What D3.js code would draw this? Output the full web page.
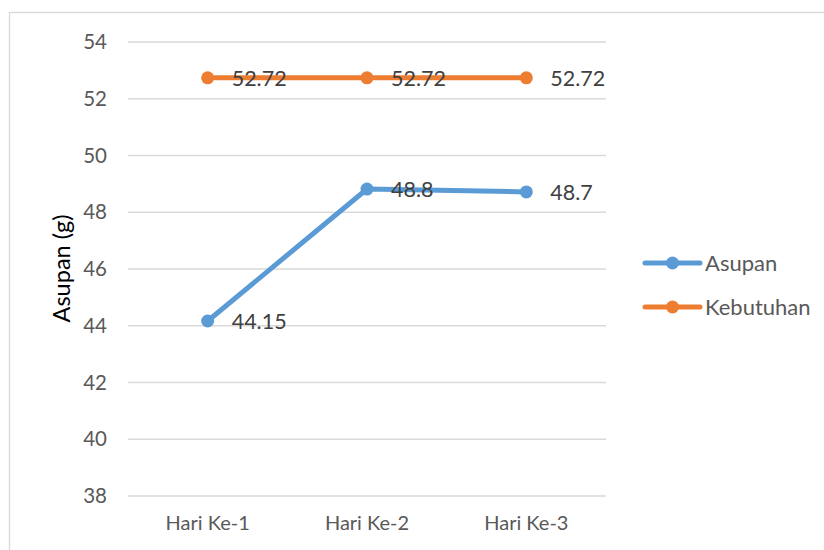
<!DOCTYPE html>
<html><head><meta charset="utf-8">
<script src="https://cdn.jsdelivr.net/npm/d3@7"></script>
<style>body{margin:0;background:#fff}svg{display:block}text{font-family:Lato,"Open Sans",sans-serif}</style>
</head><body>
<svg id="c" width="824" height="550"></svg>
<script>
const categories = ["Hari Ke-1","Hari Ke-2","Hari Ke-3"];
const asupan = [44.15, 48.8, 48.7];
const kebutuhan = [52.72, 52.72, 52.72];
const yTicks = [38,40,42,44,46,48,50,52,54];
const seriesNames = ["Asupan","Kebutuhan"];
const colors = ["#5b9bd5","#ed7d31"];
const yTitle = "Asupan (g)";

const svg = d3.select("#c");
svg.append("rect").attr("x",9.5).attr("y",12.5).attr("width",900).attr("height",600)
  .attr("fill","#fff").attr("stroke","#d9d9d9").attr("stroke-width",1.3);

const L=128, R=606, T=41.5, B=495.5;
const x = d3.scaleBand().domain(categories).range([L,R]);
const y = d3.scaleLinear().domain([38,54]).range([B,T]);

const yAxis = svg.append("g").attr("transform",`translate(${L},0)`)
  .call(d3.axisLeft(y).tickValues(yTicks).tickSize(-(R-L)).tickPadding(21).tickFormat(d3.format("d")));
yAxis.select(".domain").remove();
yAxis.selectAll("line").attr("stroke","#d9d9d9").attr("stroke-width",1.3);
yAxis.selectAll("text").attr("fill","#595959").style("font-size","20.5px").attr("dy","0.35em");

const xAxis = svg.append("g").attr("transform",`translate(0,${B})`)
  .call(d3.axisBottom(x).tickSize(0).tickPadding(20));
xAxis.select(".domain").remove();
xAxis.selectAll("text").attr("fill","#595959").style("font-size","20px");

svg.append("text").attr("transform",`translate(70,${(T+B)/2}) rotate(-90)`)
  .attr("text-anchor","middle").attr("fill","#000").style("font-size","23.5px").text(yTitle);

const data = [asupan, kebutuhan];
const line = d3.line().x((d,i)=>x(categories[i])+x.bandwidth()/2).y(d=>y(d));
data.forEach((vals,si)=>{
  const g = svg.append("g");
  g.append("path").datum(vals).attr("d",line).attr("fill","none")
    .attr("stroke",colors[si]).attr("stroke-width",5).attr("stroke-linejoin","round");
  g.selectAll("circle").data(vals).join("circle")
    .attr("cx",(d,i)=>x(categories[i])+x.bandwidth()/2).attr("cy",d=>y(d)).attr("r",6.5)
    .attr("fill",colors[si]);
  g.selectAll("text").data(vals).join("text")
    .attr("x",(d,i)=>x(categories[i])+x.bandwidth()/2+24).attr("y",d=>y(d)).attr("dy","0.36em")
    .attr("fill","#404040").style("font-size","21.5px").text(d=>d);
});

const legY=[263,307];
seriesNames.forEach((n,i)=>{
  const g=svg.append("g");
  g.append("line").attr("x1",645).attr("x2",700).attr("y1",legY[i]).attr("y2",legY[i])
    .attr("stroke",colors[i]).attr("stroke-width",5).attr("stroke-linecap","round");
  g.append("circle").attr("cx",672.5).attr("cy",legY[i]).attr("r",6.5).attr("fill",colors[i]);
  g.append("text").attr("x",705).attr("y",legY[i]).attr("dy","0.36em").attr("fill","#595959")
    .style("font-size","22px").text(n);
});
</script>
</body></html>
